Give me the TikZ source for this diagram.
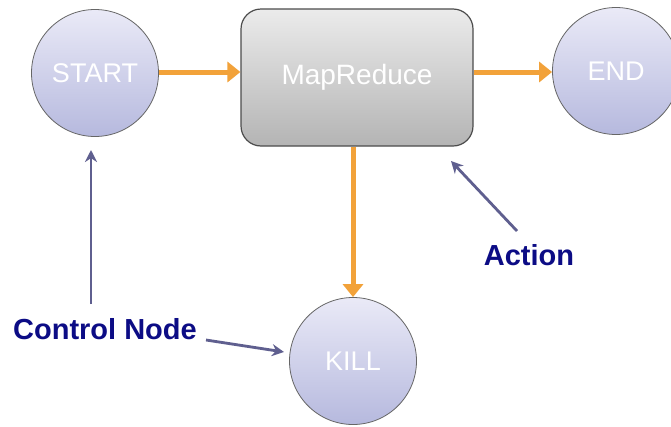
\documentclass[tikz,border=0pt]{standalone}
\usepackage{fontspec}
\setmainfont{Liberation Sans}
\usetikzlibrary{arrows.meta}
\definecolor{flow}{HTML}{F2A23A}
\definecolor{navy}{HTML}{0C0C85}
\definecolor{pointer}{HTML}{5F5F8F}
\definecolor{ringtop}{HTML}{EAEAF7}
\definecolor{ringbot}{HTML}{B6B9DE}
\definecolor{boxtop}{HTML}{EBEBEB}
\definecolor{boxbot}{HTML}{B4B4B4}
\tikzset{
  state/.style={circle, draw=gray!80!black, line width=0.8pt, top color=ringtop, bottom color=ringbot,
    minimum size=127pt, inner sep=0pt, text=white, font=\fontsize{27}{27}\selectfont},
  actionbox/.style={rectangle, rounded corners=20pt, draw=black!70, line width=1.2pt,
    top color=boxtop, bottom color=boxbot, minimum width=232pt, minimum height=137pt,
    text=white, font=\fontsize{28}{28}\selectfont},
  flowarrow/.style={draw=flow, line width=5pt, -{Triangle[length=13pt,width=20pt]}},
  pointarrow/.style={draw=pointer, line width=2.8pt, -{Stealth[length=12pt,width=12pt]}},
  caption/.style={text=navy, font=\bfseries\fontsize{29}{29}\selectfont, inner sep=0pt}
}
\begin{document}
\begin{tikzpicture}[x=1pt,y=-1pt]
\useasboundingbox (0,0) rectangle (671,426);
\fill[white] (0,0) rectangle (671,426);

% workflow nodes
\node[state] (start) at (95,73) {START};
\node[actionbox] (map) at (357,77.5) {MapReduce};
\node[state] (endn) at (616,71) {END};
\node[state] (kill) at (353,361) {KILL};

% transitions
\draw[flowarrow] (start.east |- 0,72) -- (map.west |- 0,72);
\draw[flowarrow] (map.east |- 0,72) -- (endn.west |- 0,72);
\draw[flowarrow] (map.south -| kill.north) -- (kill.north);

% labels
\node[caption] (ctrl) at (105,329) {Control Node};
\node[caption] (act) at (529,255) {Action};

\coordinate (ctrlup) at (91,304);
\coordinate (starthit) at (91,150);
\coordinate (ctrlright) at (206,340);
\coordinate (killhit) at (284,352);
\coordinate (actfrom) at (517,231);
\coordinate (maphit) at (451,161);

\draw[pointarrow] (ctrlup) -- (starthit);
\draw[pointarrow] (ctrlright) -- (killhit);
\draw[pointarrow] (actfrom) -- (maphit);
\end{tikzpicture}
\end{document}
